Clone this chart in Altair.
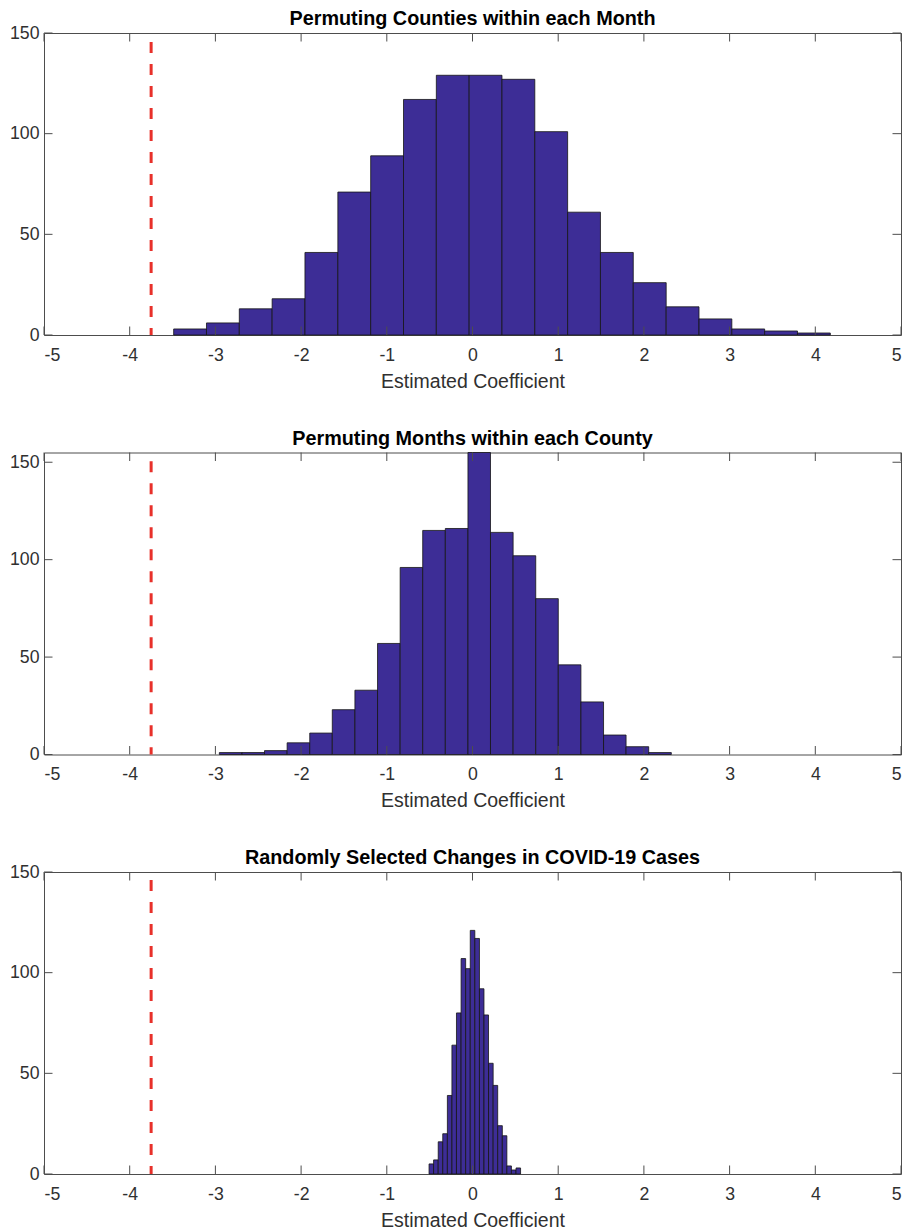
import altair as alt
import pandas as pd

TITLES = [
    "Permuting Counties within each Month",
    "Permuting Months within each County",
    "Randomly Selected Changes in COVID-19 Cases",
]
EDGES_1 = [-3.487, -3.104, -2.721, -2.338, -1.955, -1.571, -1.188, -0.805, -0.422, -0.039,
           0.344, 0.727, 1.110, 1.493, 1.876, 2.260, 2.643, 3.026, 3.409, 3.792, 4.175]
COUNTS_1 = [3, 6, 13, 18, 41, 71, 89, 117, 129, 129, 127, 101, 61, 41, 26, 14, 8, 3, 2, 1]
EDGES_2 = [-2.954, -2.690, -2.427, -2.163, -1.899, -1.636, -1.372, -1.108, -0.844, -0.581,
           -0.317, -0.053, 0.210, 0.474, 0.738, 1.001, 1.265, 1.529, 1.792, 2.056, 2.320]
COUNTS_2 = [1, 1, 2, 6, 11, 23, 33, 57, 96, 115, 116, 155, 114, 102, 80, 46, 27, 10, 4, 1]
EDGES_3 = [-0.507, -0.454, -0.400, -0.347, -0.293, -0.240, -0.187, -0.133, -0.080, -0.026,
           0.027, 0.081, 0.134, 0.187, 0.241, 0.294, 0.348, 0.401, 0.454, 0.508, 0.561]
COUNTS_3 = [5, 7, 16, 20, 39, 64, 80, 107, 102, 121, 117, 92, 79, 55, 44, 24, 19, 4, 2, 3]

EDGES = [EDGES_1, EDGES_2, EDGES_3]
COUNTS = [COUNTS_1, COUNTS_2, COUNTS_3]
Y_MAX = [150, 155, 150]
RED_X = -3.75
RED_TOP = [145.5, 150.5, 146]
X_TICKS = [-5, -4, -3, -2, -1, 0, 1, 2, 3, 4, 5]
Y_TICKS = [0, 50, 100, 150]

W, H = 857, 302
TICK_LEN = 8.5
FRAME = "#4d4d4d"
TEXT = "#303030"
FONT = "Liberation Sans"
BAR = "#3d2d96"
LABEL_EXPR = "'' + datum.value"


def panel(i):
    df = pd.DataFrame({"lo": EDGES[i][:-1], "hi": EDGES[i][1:], "count": COUNTS[i]})
    xs = alt.Scale(domain=[-5, 5], nice=False, zero=False)
    ys = alt.Scale(domain=[0, Y_MAX[i]], nice=False)
    xa = alt.Axis(values=X_TICKS, title="Estimated Coefficient", labelExpr=LABEL_EXPR)
    ya = alt.Axis(values=Y_TICKS, title=None, labelExpr=LABEL_EXPR)
    bars = alt.Chart(df).mark_rect(fill=BAR, stroke="#151515", strokeWidth=0.8).encode(
        x=alt.X("lo:Q", scale=xs, axis=xa),
        x2="hi:Q",
        y=alt.Y("count:Q", scale=ys, axis=ya),
        y2=alt.datum(0),
    )
    red_df = pd.DataFrame({"x": [RED_X], "top": [RED_TOP[i]], "bottom": [0]})
    red = alt.Chart(red_df).mark_rule(color="#e8302a", strokeWidth=3, strokeDash=[11, 11]).encode(
        x=alt.X("x:Q", scale=xs, axis=xa),
        y=alt.Y("top:Q", scale=ys, axis=ya),
        y2="bottom:Q",
    )
    xt = pd.DataFrame({"v": X_TICKS})
    yt = pd.DataFrame({"v": Y_TICKS})
    xb = alt.Chart(xt).mark_rule(color=FRAME, strokeWidth=1).encode(
        x=alt.X("v:Q", scale=xs, axis=xa), y=alt.value(H), y2=alt.value(H - TICK_LEN))
    xtp = alt.Chart(xt).mark_rule(color=FRAME, strokeWidth=1).encode(
        x=alt.X("v:Q", scale=xs, axis=xa), y=alt.value(0), y2=alt.value(TICK_LEN))
    yl = alt.Chart(yt).mark_rule(color=FRAME, strokeWidth=1).encode(
        y=alt.Y("v:Q", scale=ys, axis=ya), x=alt.value(0), x2=alt.value(TICK_LEN))
    yr = alt.Chart(yt).mark_rule(color=FRAME, strokeWidth=1).encode(
        y=alt.Y("v:Q", scale=ys, axis=ya), x=alt.value(W - TICK_LEN), x2=alt.value(W))
    title = alt.Chart(pd.DataFrame({"t": [TITLES[i]]})).mark_text(
        font=FONT, fontSize=19.8, fontWeight="bold", color="#000000",
        align="center", baseline="alphabetic",
    ).encode(text="t:N", x=alt.value(W / 2), y=alt.value(-8))
    return alt.layer(bars, red, xb, xtp, yl, yr, title).properties(width=W, height=H)


chart = alt.vconcat(panel(0), panel(1), panel(2), spacing=117.5, bounds="flush").properties(
    padding={"left": 0, "top": 0, "right": 0, "bottom": 0}
).configure_view(stroke=FRAME, strokeWidth=1).configure_axis(
    domain=False, ticks=False, grid=False,
    labelFont=FONT, labelFontSize=17.7, labelColor=TEXT, labelPadding=5,
    titleFont=FONT, titleFontSize=19.5, titleFontWeight="normal", titleColor=TEXT,
    titlePadding=8.5,
).configure_axisX(labelPadding=11)

chart.save("out.html", embed_options={"renderer": "svg", "actions": False})
